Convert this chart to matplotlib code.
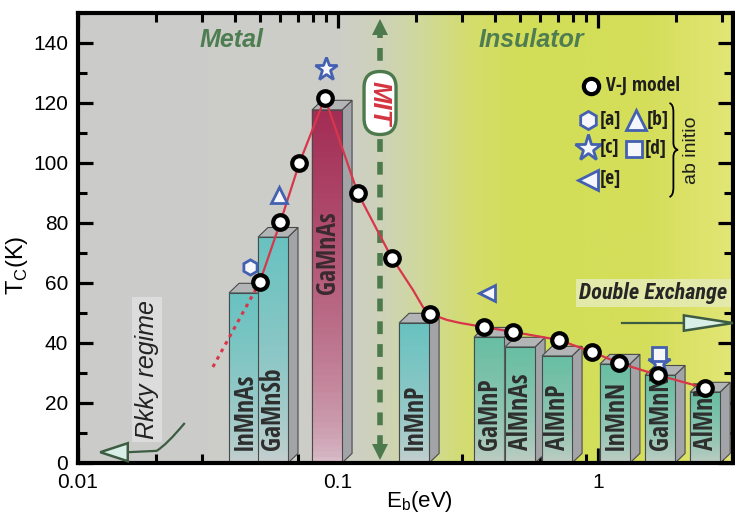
# Tc vs Eb chart for diluted magnetic semiconductors
import numpy as np
import matplotlib
matplotlib.use('Agg')
import matplotlib.pyplot as plt
import matplotlib.ticker as mticker
from matplotlib import font_manager as fm
from matplotlib.patches import Polygon, FancyBboxPatch, PathPatch
from matplotlib.path import Path
from matplotlib.collections import PolyCollection
from matplotlib.transforms import ScaledTranslation

# V-J model points
vj_eb = [0.050, 0.060, 0.071, 0.089, 0.119, 0.161, 0.226, 0.365, 0.471, 0.708, 0.949, 1.205, 1.70, 2.57]
vj_tc = [60.3, 80.3, 100.0, 121.7, 90.0, 68.3, 49.7, 45.3, 43.7, 41.0, 37.0, 33.3, 29.3, 25.0]

# red guide curve
fit_eb = [0.050, 0.060, 0.071, 0.089, 0.119, 0.161, 0.173, 0.194, 0.212, 0.226,
          0.262, 0.294, 0.365, 0.471, 0.708, 0.949, 1.205, 1.70, 2.57]
fit_tc = [60.3, 80.3, 100.0, 121.7, 90.0, 68.3, 64.3, 57.7, 52.0, 49.7,
          47.7, 46.7, 45.3, 43.7, 41.0, 37.0, 33.3, 29.3, 25.0]
ext_eb = [0.033, 0.050]
ext_tc = [32.0, 60.3]

# ab initio values
a_eb, a_tc = [0.0459], [65.4]
b_eb, b_tc = [0.0593], [89.3]
c_eb, c_tc = [0.090, 1.72], [131.2, 33.4]
d_eb, d_tc = [1.72], [36.3]
e_eb, e_tc = [0.373], [56.6]

# experimental bars
bar_names = ['InMnAs', 'GaMnSb', 'GaMnAs', 'InMnP', 'GaMnP', 'AlMnAs', 'AlMnP', 'InMnN', 'GaMnN', 'AlMnN']
bar_eb = [0.0435, 0.0562, 0.0907, 0.196, 0.381, 0.501, 0.695, 1.16, 1.73, 2.58]
bar_tc = [56.7, 75.3, 117.7, 46.7, 42.0, 38.7, 35.7, 33.0, 29.3, 23.7]
bar_kind = ['teal', 'teal', 'red', 'teal', 'green', 'green', 'green', 'green', 'green', 'green']

mit_eb = 0.145

plt.rcParams['font.family'] = ['Liberation Sans', 'DejaVu Sans']


def condensed_font(italic=False):
    # look for a condensed/narrow bold face among the installed fonts
    order = ['liberation', 'noto sans', 'open sans', 'roboto', 'dejavu']
    best = None
    for f in fm.fontManager.ttflist:
        low = (f.name + ' ' + f.fname).lower()
        cond = f.stretch in ('condensed', 'semi-condensed') or 'condensed' in low or 'narrow' in low
        if not cond or 'extra' in low or 'ultra' in low or 'mono' in low or 'serif' in low.replace('sans', ''):
            continue
        fn = f.fname.lower().split('/')[-1]
        bold = 'bold' in fn and 'semi' not in fn and 'extra' not in fn
        ital = 'italic' in fn or 'oblique' in fn
        if not bold or ital != italic:
            continue
        rank = next((i for i, o in enumerate(order) if o in low), len(order))
        if best is None or rank < best[0]:
            best = (rank, f.fname)
    return best[1] if best else None


def cfont(size, italic=False):
    path = condensed_font(italic)
    if path:
        return fm.FontProperties(fname=path, size=size)
    return fm.FontProperties(family=['Liberation Sans', 'DejaVu Sans'], weight='bold',
                             style='italic' if italic else 'normal', size=size * 0.8)


fig = plt.figure(figsize=(7.35, 5.14), dpi=100)
pos = [78 / 735, 51 / 514, 655 / 735, 450 / 514]

# background gradient on its own axes
bg = fig.add_axes(pos, zorder=0)
stops = [(0.0, (203, 204, 203)), (0.40, (205, 206, 199)), (0.46, (205, 210, 186)),
         (0.52, (208, 216, 158)), (0.60, (212, 221, 108)), (0.68, (210, 222, 88)),
         (0.87, (213, 222, 90)), (1.0, (226, 230, 118))]
xs = np.linspace(0, 1, 400)
grad = np.zeros((1, 400, 3))
for ch in range(3):
    grad[0, :, ch] = np.interp(xs, [s[0] for s in stops], [s[1][ch] for s in stops]) / 255
bg.imshow(grad, extent=[0, 1, 0, 1], aspect='auto')
bg.axis('off')

ax = fig.add_axes(pos, zorder=1)
ax.patch.set_visible(False)
ax.set_xscale('log')
ax.set_xlim(0.01, 3.3)
ax.set_ylim(0, 150)

# 3D bars
top_cols = {'teal': np.array([104, 194, 192]), 'green': np.array([104, 190, 162]), 'red': np.array([163, 44, 84])}
bot_cols = {'teal': np.array([205, 208, 208]), 'green': np.array([200, 206, 200]), 'red': np.array([218, 196, 206])}
half = 10 ** (15 / 260)
k = 10 ** (10 / 260)
dy = 3.2
for name, xc, h, kind in zip(bar_names, bar_eb, bar_tc, bar_kind):
    L, R = xc / half, xc * half
    ax.add_patch(Polygon([(R, 0), (R * k, dy), (R * k, h + dy), (R, h)], closed=True,
                         fc='#a3a4a8', ec='#4a4a4a', lw=0.8, zorder=2))
    ax.add_patch(Polygon([(L, h), (R, h), (R * k, h + dy), (L * k, h + dy)], closed=True,
                         fc='#b3b4b6', ec='#4a4a4a', lw=0.8, zorder=2))
    ys = np.linspace(0, h, 61)
    polys = [[(L, y0), (R, y0), (R, y1), (L, y1)] for y0, y1 in zip(ys[:-1], ys[1:])]
    t = ((ys[:-1] + ys[1:]) / 2 / h) ** 0.6
    cols = [(bot_cols[kind] * (1 - tt) + top_cols[kind] * tt) / 255 for tt in t]
    ax.add_collection(PolyCollection(polys, facecolors=cols, edgecolors=cols, lw=0.3, zorder=2))
    ax.add_patch(Polygon([(L, 0), (R, 0), (R, h), (L, h)], closed=True, fill=False,
                         ec='#4a4a4a', lw=0.8, zorder=2))
    ypos = 56.5 if kind == 'red' else 4.3
    ax.text(xc, ypos, name, rotation=90, rotation_mode='anchor', ha='left', va='center',
            fontproperties=cfont(18.5), color='#3a2a30' if kind == 'red' else '#2e2e2e', zorder=3)

# MIT dashed double arrow
green = '#4c7a4c'
ax.plot([mit_eb, mit_eb], [5, 143], color=green, lw=4, dashes=(2.3, 1.8), zorder=3)
ax.plot([mit_eb], [145.2], marker='^', ms=11, color=green, mew=0, zorder=3)
ax.plot([mit_eb], [3.6], marker='v', ms=11, color=green, mew=0, zorder=3)
pill = fig.dpi_scale_trans + ScaledTranslation(mit_eb, 120, ax.transData)
ax.add_patch(FancyBboxPatch((-0.16, -0.315), 0.32, 0.63, boxstyle='round,pad=0,rounding_size=0.16',
                            fc='white', ec=green, lw=2.4, transform=pill, zorder=4))
ax.text(mit_eb, 120, 'MIT', rotation=-90, ha='center', va='center', weight='bold', style='italic',
        fontsize=18.5, color='#d3353f', zorder=5)

# curves and points
ax.plot(fit_eb, fit_tc, color='#d8364a', lw=1.6, zorder=4)
ax.plot(ext_eb, ext_tc, color='#d8364a', lw=2.2, ls=(0, (1.2, 1.6)), zorder=4)
ax.plot(vj_eb, vj_tc, 'o', ms=10.5, mfc='white', mec='black', mew=3, zorder=6)
blue = dict(ls='none', mfc='#f6f7fb', mec='#4460b0', mew=2, zorder=5)
ax.plot(a_eb, a_tc, marker='h', ms=11, **blue)
ax.plot(b_eb, b_tc, marker='^', ms=12, **blue)
ax.plot(c_eb, c_tc, marker='*', ms=17, **blue)
ax.plot(d_eb, d_tc, marker='s', ms=10, **blue)
ax.plot(e_eb, e_tc, marker='<', ms=12, **blue)

# legend drawn by hand
lt = dict(transform=ax.transAxes, va='center', ha='left', fontproperties=cfont(14),
          color='#1e1e1e', zorder=7)
ax.plot([0.783], [0.838], 'o', ms=11, mfc='white', mec='black', mew=3, transform=ax.transAxes, zorder=7)
ax.text(0.806, 0.838, 'V-J model', **lt)
lb = dict(ls='none', mfc='#f6f7fb', mec='#4460b0', mew=2, transform=ax.transAxes, zorder=7)
ax.plot([0.779], [0.762], marker='h', ms=13, **lb)
ax.text(0.796, 0.762, '[a]', **lt)
ax.plot([0.852], [0.762], marker='^', ms=14, **lb)
ax.text(0.869, 0.762, '[b]', **lt)
ax.plot([0.779], [0.700], marker='*', ms=20, **lb)
ax.text(0.797, 0.700, '[c]', **lt)
ax.plot([0.849], [0.698], marker='s', ms=12, **lb)
ax.text(0.866, 0.698, '[d]', **lt)
ax.plot([0.779], [0.630], marker='<', ms=14, **lb)
ax.text(0.797, 0.630, '[e]', **lt)
brace = Path([(0.903, 0.800), (0.909, 0.797), (0.909, 0.780), (0.909, 0.712),
              (0.909, 0.698), (0.916, 0.696), (0.909, 0.694), (0.909, 0.680),
              (0.909, 0.612), (0.909, 0.594), (0.903, 0.591)],
             [Path.MOVETO, Path.CURVE3, Path.CURVE3, Path.LINETO,
              Path.CURVE3, Path.CURVE3, Path.CURVE3, Path.CURVE3,
              Path.LINETO, Path.CURVE3, Path.CURVE3])
ax.add_patch(PathPatch(brace, fill=False, ec='black', lw=1.3, transform=ax.transAxes, zorder=7))
ax.text(0.936, 0.696, 'ab initio', rotation=90, ha='center', va='center', fontsize=14,
        color='#1e1e1e', transform=ax.transAxes, zorder=7)

# region labels
ax.text(0.234, 0.94, 'Metal', transform=ax.transAxes, ha='center', va='center', weight='bold',
        style='italic', fontsize=18, color='#4e7d52', zorder=7)
ax.text(0.692, 0.94, 'Insulator', transform=ax.transAxes, ha='center', va='center', weight='bold',
        style='italic', fontsize=18, color='#4e7d52', zorder=7)
ax.text(0.878, 0.378, 'Double Exchange', transform=ax.transAxes, ha='center', va='center',
        fontproperties=cfont(16, italic=True), color='#262626', zorder=7,
        bbox=dict(boxstyle='square,pad=0.15', fc='#e3e9a8', ec='none'))
ax.text(0.105, 0.207, 'Rkky regime', transform=ax.transAxes, rotation=90, ha='center', va='center',
        style='italic', fontsize=18, color='#222222', zorder=7,
        bbox=dict(boxstyle='square,pad=0.12', fc='#dcdcdc', ec='none'))

arrow_green = '#3d5c42'
ax.plot([0.830, 0.925], [0.311, 0.311], color=arrow_green, lw=1.6, transform=ax.transAxes, zorder=7)
ax.add_patch(Polygon([(0.925, 0.328), (0.925, 0.294), (1.0, 0.311)], closed=True, fc='#d8efe8',
                     ec=arrow_green, lw=1.8, transform=ax.transAxes, zorder=7, clip_on=False))
rk = Path([(0.163, 0.089), (0.135, 0.040), (0.120, 0.027), (0.076, 0.024)],
          [Path.MOVETO, Path.CURVE3, Path.CURVE3, Path.LINETO])
ax.add_patch(PathPatch(rk, fill=False, ec=arrow_green, lw=1.6, transform=ax.transAxes, zorder=7))
ax.add_patch(Polygon([(0.076, 0.044), (0.076, 0.004), (0.034, 0.024)], closed=True, fc='#d8efe8',
                     ec=arrow_green, lw=1.8, transform=ax.transAxes, zorder=7))

# axes styling
ax.xaxis.set_major_locator(mticker.FixedLocator([0.01, 0.1, 1]))
ax.xaxis.set_major_formatter(mticker.FuncFormatter(lambda v, p: '%g' % v))
ax.xaxis.set_minor_locator(mticker.LogLocator(base=10, subs=np.arange(2, 10)))
ax.xaxis.set_minor_formatter(mticker.NullFormatter())
ax.yaxis.set_major_locator(mticker.MultipleLocator(20))
ax.yaxis.set_minor_locator(mticker.MultipleLocator(10))
ax.tick_params(which='both', direction='in', top=True, right=True, labelsize=15, pad=7)
ax.tick_params(which='major', length=11, width=2.3)
ax.tick_params(which='minor', length=6.5, width=2.2)
for sp in ax.spines.values():
    sp.set_linewidth(3)
ax.set_ylabel(r'T$_\mathregular{C}$(K)', fontsize=17)
ax.yaxis.set_label_coords(-0.074, 0.44)
ax.set_xlabel(r'E$_\mathregular{b}$(eV)', fontsize=16)
ax.xaxis.set_label_coords(0.522, -0.058)

fig.savefig('out.png', dpi=100)
